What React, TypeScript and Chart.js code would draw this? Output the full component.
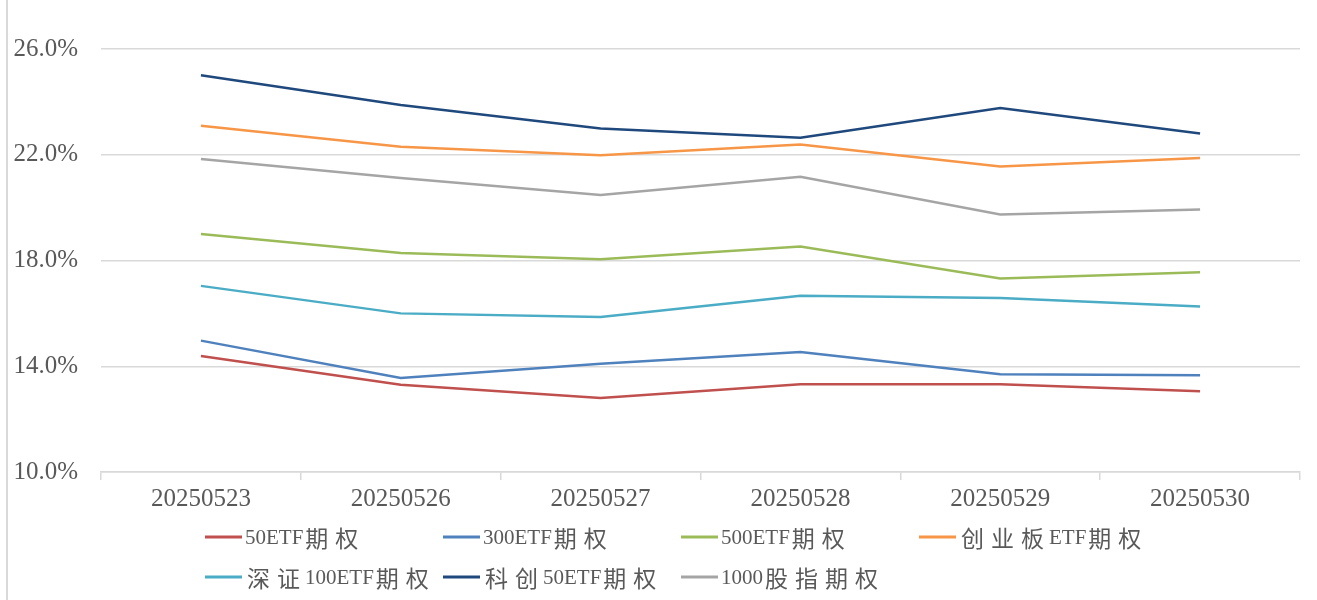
import React, { useEffect, useRef } from 'react';
import { Chart, registerables } from 'chart.js';

Chart.register(...registerables);

const categories = ['20250523', '20250526', '20250527', '20250528', '20250529', '20250530'];
const seriesNames = ['50ETF期权', '300ETF期权', '500ETF期权', '创业板ETF期权', '深证100ETF期权', '科创50ETF期权', '1000股指期权'];
const etf50 = [14.39, 13.30, 12.80, 13.32, 13.32, 13.05];
const etf300 = [14.97, 13.56, 14.09, 14.54, 13.70, 13.66];
const etf500 = [19.00, 18.28, 18.05, 18.53, 17.32, 17.56];
const cyb = [23.10, 22.30, 21.98, 22.39, 21.56, 21.88];
const sz100 = [17.04, 16.00, 15.86, 16.67, 16.58, 16.26];
const kc50 = [25.01, 23.88, 22.99, 22.64, 23.77, 22.80];
const idx1000 = [21.84, 21.12, 20.48, 21.17, 19.74, 19.93];
const yTicks = [10, 14, 18, 22, 26];
const colors = ['#C0504D', '#4F81BD', '#9BBB59', '#F79646', '#4BACC6', '#1F497D', '#A5A5A5'];

const seriesValues = [etf50, etf300, etf500, cyb, sz100, kc50, idx1000];

const TEXT = '#595959';
const GRID = '#d9d9d9';

const legendPlugin = {
  id: 'gridLegend',
  afterDraw(chart: any) {
    const ctx = chart.ctx as CanvasRenderingContext2D;
    ctx.save();
    chart.data.datasets.forEach((ds: any, i: number) => {
      const col = i % 4;
      const row = Math.floor(i / 4);
      const x = 205 + col * 238;
      const y = 537 + row * 40;
      ctx.strokeStyle = ds.borderColor;
      ctx.lineWidth = 3;
      ctx.beginPath();
      ctx.moveTo(x, y);
      ctx.lineTo(x + 37, y);
      ctx.stroke();
      let tx = x + 40;
      ctx.fillStyle = TEXT;
      ctx.textBaseline = 'middle';
      ctx.textAlign = 'left';
      for (const ch of ds.label as string) {
        const cjk = /[\u4e00-\u9fff]/.test(ch);
        ctx.font = cjk ? "23px 'Noto Sans CJK SC'" : "21px 'Liberation Serif'";
        ctx.fillText(ch, tx + (cjk ? 2 : 0), y + 1);
        tx += cjk ? 30 : ctx.measureText(ch).width;
      }
    });
    ctx.strokeStyle = GRID;
    ctx.lineWidth = 2;
    ctx.beginPath();
    ctx.moveTo(7, 0);
    ctx.lineTo(7, 600);
    ctx.stroke();
    ctx.restore();
  },
};

export default function App() {
  const ref = useRef<HTMLCanvasElement | null>(null);

  useEffect(() => {
    if (!ref.current) return;
    const chart = new Chart(ref.current, {
      type: 'line',
      data: {
        labels: categories,
        datasets: seriesNames.map((name, i) => ({
          label: name,
          data: seriesValues[i],
          borderColor: colors[i],
          backgroundColor: colors[i],
          borderWidth: 2.5,
          pointRadius: 0,
          tension: 0,
          fill: false,
        })),
      },
      options: {
        responsive: false,
        animation: false,
        devicePixelRatio: 1,
        layout: { padding: { top: 49, left: 0, right: 17, bottom: 78 } },
        plugins: {
          legend: { display: false },
          tooltip: { enabled: false },
        },
        scales: {
          x: {
            offset: true,
            grid: {
              display: true,
              drawOnChartArea: false,
              drawTicks: true,
              tickLength: 8,
              color: GRID,
              lineWidth: 1.5,
              offset: true,
            },
            border: { display: true, color: GRID, width: 1.5 },
            ticks: {
              color: TEXT,
              font: { family: 'Liberation Serif', size: 25 },
              padding: 4,
              maxRotation: 0,
              autoSkip: false,
            },
            afterFit: (s: any) => {
              s.height = 50;
            },
          },
          y: {
            min: 10,
            max: 26,
            afterBuildTicks: (s: any) => {
              s.ticks = yTicks.map((v) => ({ value: v }));
            },
            ticks: {
              color: TEXT,
              font: { family: 'Liberation Serif', size: 25 },
              padding: 23,
              callback: (v: any) => Number(v).toFixed(1) + '%',
            },
            grid: { color: GRID, lineWidth: 1.5, drawTicks: false },
            border: { display: false },
            afterFit: (s: any) => {
              s.width = 101;
            },
          },
        },
      },
      plugins: [legendPlugin],
    });
    return () => chart.destroy();
  }, []);

  return (
    <div style={{ position: 'absolute', left: 0, top: 0, width: 1317, height: 600, background: '#fff' }}>
      <canvas ref={ref} width={1317} height={600} />
    </div>
  );
}
